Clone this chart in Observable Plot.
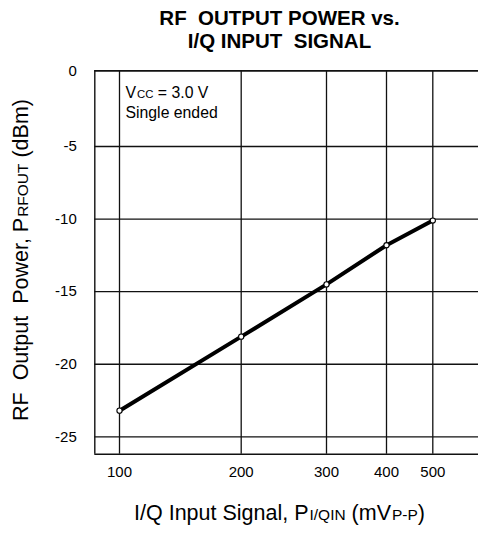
<!DOCTYPE html>
<html>
<head>
<meta charset="utf-8">
<script src="https://cdn.jsdelivr.net/npm/d3@7"></script>
<script src="https://cdn.jsdelivr.net/npm/@observablehq/plot@0.6"></script>
<style>
  html, body { margin: 0; padding: 0; background: #fff; }
  #wrap { position: relative; width: 478px; height: 535px; overflow: hidden; font-family: "Liberation Sans", Arial, sans-serif; color: #000; }
  #wrap svg { position: absolute; left: 0; top: 0; }
  .ov { position: absolute; white-space: pre; }
  .sm { font-size: 72%; margin-left: 1px; }
  #title { left: 79.5px; top: 6.2px; width: 400px; text-align: center; font-weight: bold; font-size: 20.5px; line-height: 23.3px; }
  #note1 { left: 125.5px; top: 82.5px; font-size: 15.8px; line-height: 20.7px; }
  #note2 { left: 125.5px; top: 103.2px; font-size: 15.8px; line-height: 20.7px; }
  #xlab { left: 79.5px; top: 501px; width: 400px; text-align: center; font-size: 21.5px; line-height: 24px; }
  #ylab { left: -179.2px; top: 248px; width: 400px; height: 24px; text-align: center; font-size: 21.5px; line-height: 24px; transform: rotate(-90deg); transform-origin: 200px 12px; }
</style>
</head>
<body>
<div id="wrap"></div>
<script>
// ---- data ----
const signal = [100, 200, 300, 400, 500];          // I/Q input signal (mVp-p)
const power  = [-23.2, -18.1, -14.5, -11.8, -10.1]; // RF output power (dBm)
const xTicks = [100, 200, 300, 400, 500];
const yTicks = [0, -5, -10, -15, -20, -25];
const xEdges = [80, 600];
const yEdges = [0, -26.2];

const data = signal.map((s, i) => ({signal: s, power: power[i]}));

const ink = "#111";
const chart = Plot.plot({
  width: 478,
  height: 535,
  marginLeft: 94.3,
  marginRight: 0,
  marginTop: 70.3,
  marginBottom: 81.3,
  style: {fontFamily: '"Liberation Sans", Arial, sans-serif', fontSize: "15px", color: "#000", background: "#fff"},
  x: {type: "linear", domain: [80, 100, 200, 300, 400, 500, 600], range: [94.3, 119, 240.7, 326, 386, 432.3, 478.6]},
  y: {type: "linear", domain: [-26.2, -25, -5, 0], range: [453.7, 436.3, 146, 70.3]},
  marks: [
    Plot.ruleX(xTicks, {y1: yEdges[0], y2: yEdges[1], stroke: ink, strokeWidth: 1.3}),
    Plot.ruleY(yTicks, {x1: xEdges[0], x2: xEdges[1], stroke: ink, strokeWidth: 1.3}),
    Plot.ruleY(yEdges, {x1: xEdges[0], x2: xEdges[1], stroke: ink, strokeWidth: 1.4}),
    Plot.ruleX([xEdges[0]], {y1: yEdges[0], y2: yEdges[1], stroke: ink, strokeWidth: 1.4}),
    Plot.axisX(xTicks, {anchor: "bottom", tickSize: 0, tickPadding: 12, label: null, fontSize: 15}),
    Plot.axisY(yTicks, {anchor: "left", tickSize: 0, tickPadding: 18, label: null, fontSize: 15, tickFormat: d => String(d)}),
    Plot.line(data, {x: "signal", y: "power", stroke: "#000", strokeWidth: 4}),
    Plot.dot(data, {x: "signal", y: "power", r: 2.6, fill: "#fff", stroke: "#000", strokeWidth: 1.1})
  ]
});

const wrap = document.getElementById("wrap");
wrap.appendChild(chart);

function overlay(id, html) {
  const d = document.createElement("div");
  d.className = "ov";
  d.id = id;
  d.innerHTML = html;
  wrap.appendChild(d);
}
overlay("title", "RF  OUTPUT POWER vs.\nI/Q INPUT  SIGNAL");
overlay("note1", 'V<span class="sm">CC</span> = 3.0 V');
overlay("note2", 'Single ended');
overlay("xlab", 'I/Q Input Signal, P<span class="sm">I/QIN</span> (mV<span class="sm">P-P</span>)');
overlay("ylab", 'RF  Output  Power, P<span class="sm">RFOUT</span> (dBm)');
</script>
</body>
</html>
